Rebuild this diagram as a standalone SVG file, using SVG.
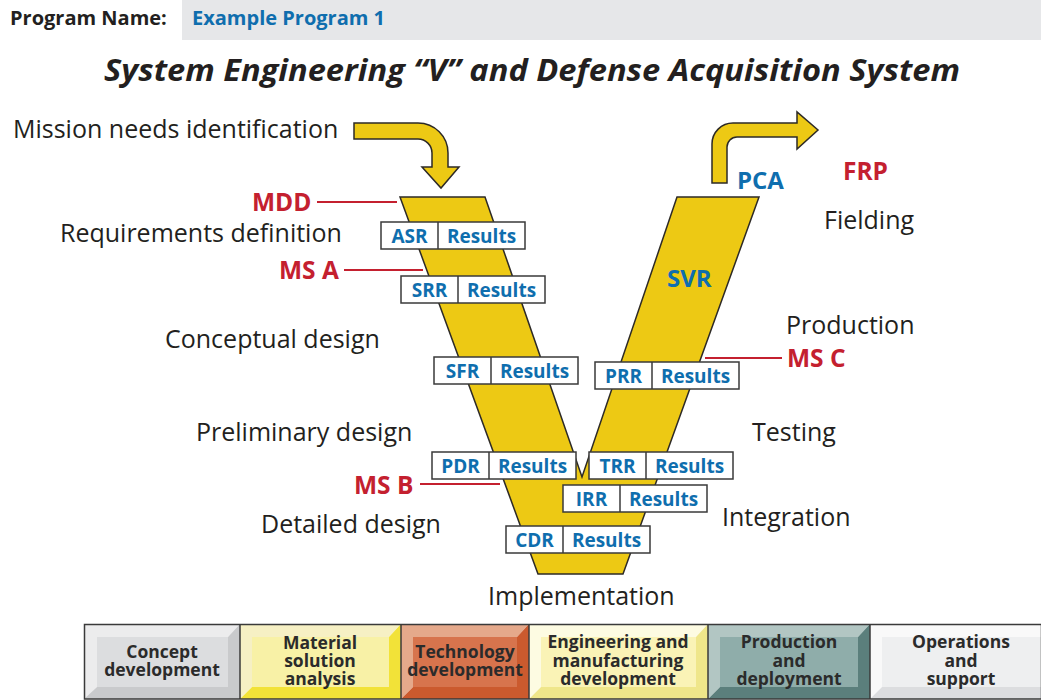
<svg xmlns="http://www.w3.org/2000/svg" width="1041" height="700" viewBox="0 0 1041 700">
<style>
  text { font-family: "Open Sans", "Liberation Sans", sans-serif; }
  .lbl { font-size: 25px; fill: #231f20; }
  .ms { font-size: 24.5px; font-weight: bold; fill: #c4202f; }
  .blue { font-weight: bold; fill: #0f6eae; }
  .bx { fill: #ffffff; stroke: #3a3a3a; stroke-width: 1.5; }
  .bt { font-size: 19px; font-weight: bold; fill: #0f6eae; text-anchor: middle; }
  .yel { fill: #edc914; stroke: #2d2a26; stroke-width: 1.5; stroke-linejoin: miter; }
  .msl { stroke: #c4202f; stroke-width: 1.8; fill: none; }
  .ph { font-size: 17.5px; font-weight: bold; fill: #2b2b2b; text-anchor: middle; }
  .ol { fill: none; stroke: #3a3a3a; stroke-width: 1.5; }
</style>
<defs>
  <g id="rbox">
    <rect class="bx" x="0" y="0" width="144" height="27"/>
    <line x1="57" y1="0" x2="57" y2="27" stroke="#3a3a3a" stroke-width="1.5"/>
    <text class="bt" x="100.5" y="20.5">Results</text>
  </g>
</defs>

<!-- header -->
<g id="header">
  <rect x="182" y="0" width="859" height="40" fill="#e6e7e9"/>
  <text x="10" y="25" font-size="20" font-weight="bold" fill="#231f20">Program Name:</text>
  <text x="192" y="25" font-size="20" class="blue">Example Program 1</text>
</g>

<g id="title">
  <text x="104" y="81" font-size="31" font-weight="bold" font-style="italic" fill="#231f20" textLength="856" lengthAdjust="spacingAndGlyphs">System Engineering “V” and Defense Acquisition System</text>
</g>

<!-- V shape and arrows -->
<g id="v-shape">
  <polygon class="yel" points="400,197 485,197 582,477 677,197 759,197 623,574 538,574"/>
</g>
<g id="arrow-in">
  <path class="yel" d="M354,123 H418 A30,30 0 0 1 448,153 V167 H459 L441,188 L422,167 H432 V153 A14,14 0 0 0 418,139 H354 Z"/>
</g>
<g id="arrow-out">
  <path class="yel" d="M712,183 V144 A21,21 0 0 1 733,123 H797 V112 L818,130 L797,149 V137 H737 A10,10 0 0 0 727,147 V183 Z"/>
</g>

<!-- connectors -->
<g id="connectors">
  <line class="msl" x1="317" y1="202" x2="397" y2="202"/>
  <line class="msl" x1="344" y1="270" x2="423" y2="270"/>
  <line class="msl" x1="420" y1="484" x2="500" y2="484"/>
  <line class="msl" x1="705" y1="358" x2="782" y2="358"/>
</g>

<!-- phase labels -->
<g id="labels">
  <text class="lbl" x="13" y="138">Mission needs identification</text>
  <text class="lbl" x="60" y="242">Requirements definition</text>
  <text class="lbl" x="165" y="348">Conceptual design</text>
  <text class="lbl" x="196" y="441">Preliminary design</text>
  <text class="lbl" x="261" y="533">Detailed design</text>
  <text class="lbl" x="488" y="605">Implementation</text>
  <text class="lbl" x="722" y="526">Integration</text>
  <text class="lbl" x="752" y="441">Testing</text>
  <text class="lbl" x="786" y="334">Production</text>
  <text class="lbl" x="824" y="229">Fielding</text>
</g>

<g id="milestones">
  <text class="ms" x="252" y="211">MDD</text>
  <text class="ms" x="279" y="279">MS A</text>
  <text class="ms" x="354" y="494">MS B</text>
  <text class="ms" x="787" y="367">MS C</text>
  <text class="ms" x="843" y="180" font-size="22">FRP</text>
  <text class="blue" x="737" y="189" font-size="24">PCA</text>
  <text class="blue" x="667" y="287" font-size="24">SVR</text>
</g>

<!-- review boxes -->
<g id="asr" transform="translate(381,222)"><use href="#rbox"/><text class="bt" x="28.5" y="20.5">ASR</text></g>
<g id="srr" transform="translate(401,276)"><use href="#rbox"/><text class="bt" x="28.5" y="20.5">SRR</text></g>
<g id="sfr" transform="translate(434,357)"><use href="#rbox"/><text class="bt" x="28.5" y="20.5">SFR</text></g>
<g id="prr" transform="translate(595,362)"><use href="#rbox"/><text class="bt" x="28.5" y="20.5">PRR</text></g>
<g id="pdr" transform="translate(432,452)"><use href="#rbox"/><text class="bt" x="28.5" y="20.5">PDR</text></g>
<g id="trr" transform="translate(589,452)"><use href="#rbox"/><text class="bt" x="28.5" y="20.5">TRR</text></g>
<g id="irr" transform="translate(563,485)"><use href="#rbox"/><text class="bt" x="28.5" y="20.5">IRR</text></g>
<g id="cdr" transform="translate(506,526)"><use href="#rbox"/><text class="bt" x="28.5" y="20.5">CDR</text></g>

<!-- acquisition phases -->
<g id="phase-concept">
  <polygon fill="#ececed" points="84,624 240,624 228,637 97,637 97,687 84,699"/>
  <polygon fill="#c9cacc" points="240,624 240,699 84,699 97,687 228,687 228,637"/>
  <rect x="97" y="637" width="131" height="50" fill="#dcdddf"/>
  <text class="ph"><tspan x="162" y="658">Concept</tspan><tspan x="162" dy="18">development</tspan></text>
</g>
<g id="phase-msa">
  <polygon fill="#f6f0c4" points="240,624 401,624 389,637 252,637 252,687 240,699"/>
  <polygon fill="#f2e238" points="401,624 401,699 240,699 252,687 389,687 389,637"/>
  <rect x="252" y="637" width="137" height="50" fill="#f8f1a6"/>
  <text class="ph"><tspan x="320" y="649">Material</tspan><tspan x="320" dy="18">solution</tspan><tspan x="320" dy="18">analysis</tspan></text>
</g>
<g id="phase-td">
  <polygon fill="#e5a98b" points="401,624 529,624 517,637 413,637 413,687 401,699"/>
  <polygon fill="#cb5a2e" points="529,624 529,699 401,699 413,687 517,687 517,637"/>
  <rect x="413" y="637" width="104" height="50" fill="#d7744d"/>
  <text class="ph"><tspan x="465" y="658">Technology</tspan><tspan x="465" dy="18">development</tspan></text>
</g>
<g id="phase-emd">
  <polygon fill="#fdfbe2" points="529,624 708,624 696,637 541,637 541,687 529,699"/>
  <polygon fill="#efe68a" points="708,624 708,699 529,699 541,687 696,687 696,637"/>
  <rect x="541" y="637" width="155" height="50" fill="#faf3b6"/>
  <text class="ph"><tspan x="618" y="648">Engineering and</tspan><tspan x="618" dy="18.5">manufacturing</tspan><tspan x="618" dy="18.5">development</tspan></text>
</g>
<g id="phase-pd">
  <polygon fill="#b2c6c3" points="708,624 870,624 858,637 720,637 720,687 708,699"/>
  <polygon fill="#5b7f7c" points="870,624 870,699 708,699 720,687 858,687 858,637"/>
  <rect x="720" y="637" width="138" height="50" fill="#8fadaa"/>
  <text class="ph"><tspan x="789" y="648">Production</tspan><tspan x="789" dy="18.5">and</tspan><tspan x="789" dy="18.5">deployment</tspan></text>
</g>
<g id="phase-os">
  <polygon fill="#f9f9f9" points="870,624 1041,624 1041,637 882,637 882,687 870,699"/>
  <polygon fill="#dcdddf" points="870,699 882,687 1041,687 1041,699"/>
  <rect x="882" y="637" width="159" height="50" fill="#eeeff0"/>
  <text class="ph"><tspan x="961" y="648">Operations</tspan><tspan x="961" dy="18.5">and</tspan><tspan x="961" dy="18.5">support</tspan></text>
</g>
<g id="phase-outline">
  <rect class="ol" x="84.5" y="624.5" width="957" height="74.5"/>
  <line class="ol" x1="240" y1="624" x2="240" y2="699"/>
  <line class="ol" x1="401" y1="624" x2="401" y2="699"/>
  <line class="ol" x1="529" y1="624" x2="529" y2="699"/>
  <line class="ol" x1="708" y1="624" x2="708" y2="699"/>
  <line class="ol" x1="870" y1="624" x2="870" y2="699"/>
</g>
</svg>
